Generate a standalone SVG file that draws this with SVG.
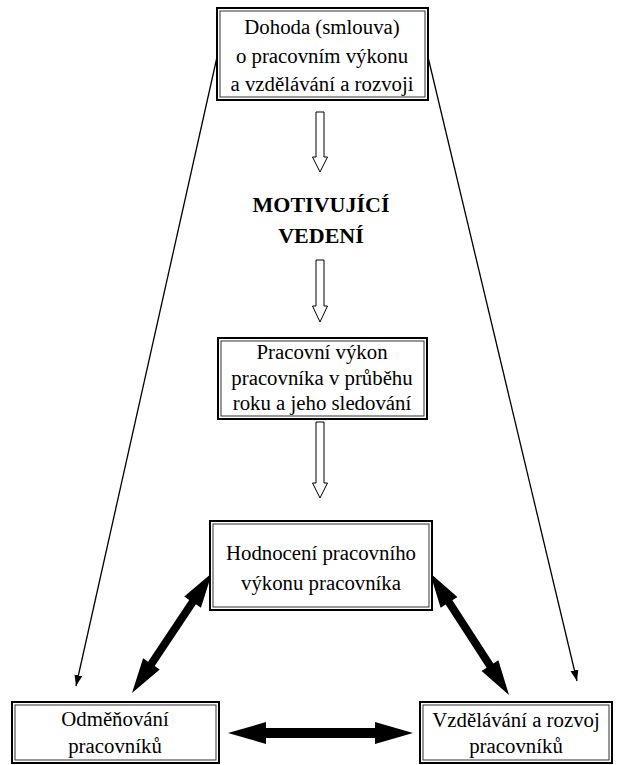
<svg xmlns="http://www.w3.org/2000/svg" width="622" height="765" viewBox="0 0 622 765">
<style>
.box{fill:#fff;stroke:#000;stroke-width:2}
.inner{fill:none;stroke:#333;stroke-width:1}
.t{font-family:'Liberation Serif','Times New Roman','DejaVu Serif',serif;font-size:20.8px;fill:#000;text-anchor:middle}
.b{font-family:'Liberation Serif','Times New Roman','DejaVu Serif',serif;font-size:22px;font-weight:bold;fill:#000;text-anchor:middle}
.hollow{fill:#fff;stroke:#000;stroke-width:1}
.thick{fill:#000;stroke:none}
.thin{stroke:#000;stroke-width:1.3;fill:none}
</style>
<defs>
<marker id="ah" markerUnits="userSpaceOnUse" markerWidth="12" markerHeight="10" refX="11" refY="4" orient="auto">
<path d="M0,0 L11,4 L0,8 Z" fill="#000"/>
</marker>
</defs>
<rect width="622" height="765" fill="#fff"/>
<g id="connectors">
<line class="thin" x1="217" y1="57" x2="76" y2="686" marker-end="url(#ah)"/>
<line class="thin" x1="428" y1="57" x2="577" y2="681" marker-end="url(#ah)"/>
<polygon class="hollow" points="316,112 324,112 324,157 327.5,157 320,172 312.5,157 316,157"/>
<polygon class="hollow" points="316,260 324,260 324,306 327.5,306 320,322 312.5,306 316,306"/>
<polygon class="hollow" points="316,422 324,422 324,483 327.5,483 320,498 312.5,483 316,483"/>
<polygon class="thick" points="228,733 266,722 266,728 375,728 375,722 413,733 375,744 375,738 266,738 266,744"/>
<polygon class="thick" points="132,693 159.73,669.43 154.74,666.10 195.92,604.34 200.91,607.67 212,573 184.27,596.57 189.26,599.90 148.08,661.66 143.09,658.33"/>
<polygon class="thick" points="430,573 440.63,607.83 445.67,604.56 486.61,667.78 481.57,671.05 509,695 498.37,660.17 493.33,663.44 452.39,600.22 457.43,596.95"/>
</g>
<g id="dohoda">
<rect class="box" x="217" y="8" width="211" height="92"/>
<rect class="inner" x="220" y="11" width="205" height="86"/>
<text class="t" x="322" y="34">Dohoda (smlouva)</text>
<text class="t" x="322" y="63">o pracovním výkonu</text>
<text class="t" x="322" y="91">a vzdělávání a rozvoji</text>
</g>
<g id="motivujici">
<text class="b" x="321" y="212">MOTIVUJÍCÍ</text>
<text class="b" x="321" y="243">VEDENÍ</text>
</g>
<g id="vykon">
<rect class="box" x="218" y="338" width="209" height="81"/>
<rect class="inner" x="221" y="341" width="203" height="75"/>
<text class="t" x="322" y="359">Pracovní výkon</text>
<text class="t" x="322" y="385">pracovníka v průběhu</text>
<text class="t" x="322" y="410">roku a jeho sledování</text>
</g>
<g id="hodnoceni">
<rect class="box" x="210" y="521" width="222" height="89"/>
<rect class="inner" x="213" y="524" width="216" height="83"/>
<text class="t" x="321" y="560">Hodnocení pracovního</text>
<text class="t" x="321" y="590">výkonu pracovníka</text>
</g>
<g id="odmenovani">
<rect class="box" x="12" y="702" width="207" height="61"/>
<rect class="inner" x="15" y="705" width="201" height="55"/>
<text class="t" x="115" y="726">Odměňování</text>
<text class="t" x="115" y="753">pracovníků</text>
</g>
<g id="vzdelavani">
<rect class="box" x="420" y="702" width="192" height="61"/>
<rect class="inner" x="423" y="705" width="186" height="55"/>
<text class="t" x="516" y="727">Vzdělávání a rozvoj</text>
<text class="t" x="516" y="753">pracovníků</text>
</g>
</svg>
